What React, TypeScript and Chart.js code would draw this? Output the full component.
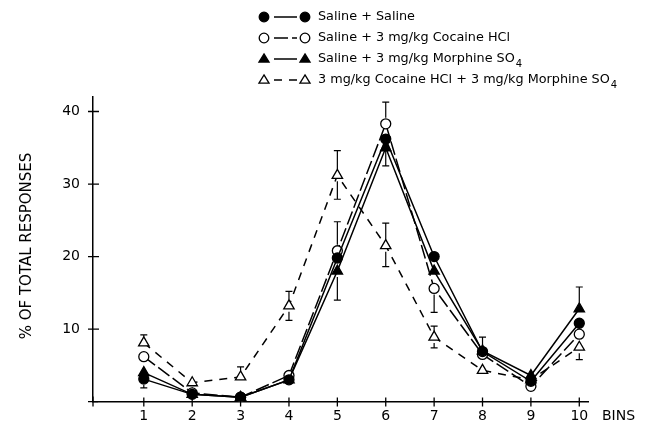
import { useEffect, useRef } from "react";
import { Chart, registerables } from "chart.js";
Chart.register(...registerables);

const bins = [1, 2, 3, 4, 5, 6, 7, 8, 9, 10];
const yTicks = [10, 20, 30, 40];

const salineSaline = [3.1, 1.0, 0.6, 3.0, 19.8, 36.2, 20.0, 6.9, 2.8, 10.8];
const salineCocaine = [6.2, 1.2, 0.6, 3.6, 20.8, 38.3, 15.6, 6.5, 2.1, 9.3];
const salineMorphine = [4.0, 1.0, 0.6, 3.0, 18.0, 35.0, 18.0, 7.0, 3.6, 12.8];
const cocaineMorphine = [8.1, 2.6, 3.4, 13.2, 31.2, 21.5, 8.9, 4.3, 3.0, 7.5];

// error bar extents (0 = not drawn)
const ssErrUp = [0, 0, 0, 0, 0, 0, 0, 2.0, 0, 0];
const ssErrDown = [1.2, 0, 0, 0, 0, 3.7, 0, 0, 0, 0];
const scErrUp = [0, 0, 0, 0, 4.0, 3.0, 0, 0, 0, 0];
const scErrDown = [0, 0, 0, 0, 0, 0, 3.3, 0, 0, 0];
const smErrUp = [0, 0, 0, 0, 0, 0, 0, 0, 0, 3.0];
const smErrDown = [0, 0, 0, 0, 4.0, 0, 0, 0, 0, 0];
const cmErrUp = [1.1, 0, 1.4, 2.0, 3.4, 3.1, 1.5, 0, 0, 0];
const cmErrDown = [0, 0, 0, 2.0, 3.3, 2.9, 1.5, 0, 0, 1.7];

const legendLabels = [
  "Saline + Saline",
  "Saline + 3 mg/kg Cocaine HCl",
  "Saline + 3 mg/kg Morphine SO",
  "3 mg/kg Cocaine HCl + 3 mg/kg Morphine SO",
];
const legendSubs = ["", "", "4", "4"];
const yTitle = "% OF TOTAL RESPONSES";
const xTitle = "BINS";

const FONT = "'DejaVu Sans', sans-serif";

function drawMarker(ctx: CanvasRenderingContext2D, style: string, filled: boolean, x: number, y: number, r: number) {
  ctx.save();
  ctx.beginPath();
  if (style === "circle") {
    ctx.arc(x, y, r, 0, Math.PI * 2);
  } else {
    const h = r * 1.7;
    ctx.moveTo(x, y - h * 0.62);
    ctx.lineTo(x + r * 1.05, y + h * 0.38);
    ctx.lineTo(x - r * 1.05, y + h * 0.38);
    ctx.closePath();
  }
  ctx.fillStyle = filled ? "#000" : "#fff";
  ctx.fill();
  ctx.lineWidth = 1.3;
  ctx.strokeStyle = "#000";
  ctx.stroke();
  ctx.restore();
}

const figurePlugin = {
  id: "figure",
  afterDatasetsDraw(chart: any) {
    const ctx: CanvasRenderingContext2D = chart.ctx;
    const xs = chart.scales.x;
    const ys = chart.scales.y;
    // error bars
    chart.data.datasets.forEach((ds: any) => {
      ds.data.forEach((p: any, i: number) => {
        const up = ds.errUp[i];
        const dn = ds.errDown[i];
        const px = xs.getPixelForValue(p.x);
        const py = ys.getPixelForValue(p.y);
        ctx.save();
        ctx.strokeStyle = "#000";
        ctx.lineWidth = 1.2;
        if (up > 0) {
          const ty = ys.getPixelForValue(p.y + up);
          ctx.beginPath();
          ctx.moveTo(px, py - 6);
          ctx.lineTo(px, ty);
          ctx.moveTo(px - 3.5, ty);
          ctx.lineTo(px + 3.5, ty);
          ctx.stroke();
        }
        if (dn > 0) {
          const by = ys.getPixelForValue(p.y - dn);
          ctx.beginPath();
          ctx.moveTo(px, py + 6);
          ctx.lineTo(px, by);
          ctx.moveTo(px - 3.5, by);
          ctx.lineTo(px + 3.5, by);
          ctx.stroke();
        }
        ctx.restore();
      });
    });
  },
  afterDraw(chart: any) {
    const ctx: CanvasRenderingContext2D = chart.ctx;
    const xs = chart.scales.x;
    const ys = chart.scales.y;
    const area = chart.chartArea;
    ctx.save();
    ctx.strokeStyle = "#000";
    ctx.lineWidth = 1.3;
    // cross ticks
    ctx.beginPath();
    bins.forEach((b) => {
      const px = xs.getPixelForValue(b);
      ctx.moveTo(px, area.bottom - 4);
      ctx.lineTo(px, area.bottom + 5);
    });
    yTicks.forEach((t) => {
      const py = ys.getPixelForValue(t);
      ctx.moveTo(area.left - 5, py);
      ctx.lineTo(area.left + 6, py);
    });
    ctx.moveTo(area.left - 5, area.bottom);
    ctx.lineTo(area.left + 5, area.bottom);
    ctx.moveTo(area.left, area.bottom - 5);
    ctx.lineTo(area.left, area.bottom + 5);
    ctx.stroke();

    // x title
    ctx.fillStyle = "#000";
    ctx.font = `14px ${FONT}`;
    ctx.textBaseline = "middle";
    ctx.textAlign = "left";
    ctx.fillText(xTitle, 602, 416);

    // y title
    ctx.save();
    ctx.translate(27, 246);
    ctx.rotate(-Math.PI / 2);
    ctx.textAlign = "center";
    ctx.font = `15px ${FONT}`;
    ctx.fillText(yTitle, 0, 0);
    ctx.restore();

    // legend
    const rows = [17, 38, 59, 80];
    chart.data.datasets.forEach((ds: any, i: number) => {
      const y = rows[i];
      ctx.save();
      ctx.lineWidth = 1.5;
      ctx.setLineDash(ds.borderDash || []);
      ctx.beginPath();
      ctx.moveTo(274, y);
      ctx.lineTo(297, y);
      ctx.stroke();
      ctx.restore();
      drawMarker(ctx, ds.pointStyle, ds.pointBackgroundColor === "#000", 264, y, 4.8);
      drawMarker(ctx, ds.pointStyle, ds.pointBackgroundColor === "#000", 305, y, 4.8);
      ctx.font = `500 12.8px ${FONT}`;
      ctx.textAlign = "left";
      ctx.textBaseline = "middle";
      ctx.fillStyle = "#000";
      ctx.fillText(legendLabels[i], 318, y);
      if (legendSubs[i]) {
        const w = ctx.measureText(legendLabels[i]).width;
        ctx.font = `10px ${FONT}`;
        ctx.fillText(legendSubs[i], 318 + w + 1, y + 5);
      }
    });
    ctx.restore();
  },
};

function makeDataset(values: number[], up: number[], down: number[], style: string, filled: boolean, dash: number[]) {
  return {
    data: values.map((v, i) => ({ x: bins[i], y: v })),
    errUp: up,
    errDown: down,
    borderColor: "#000",
    borderWidth: 1.5,
    borderDash: dash,
    pointStyle: style,
    pointRadius: style === "circle" ? 5 : 6,
    pointBackgroundColor: filled ? "#000" : "#fff",
    pointBorderColor: "#000",
    pointBorderWidth: 1.3,
    showLine: true,
    tension: 0,
    fill: false,
  };
}

export default function App() {
  const ref = useRef<HTMLCanvasElement>(null);
  useEffect(() => {
    if (!ref.current) return;
    const chart = new Chart(ref.current, {
      type: "scatter",
      data: {
        datasets: [
          makeDataset(salineSaline, ssErrUp, ssErrDown, "circle", true, []),
          makeDataset(salineCocaine, scErrUp, scErrDown, "circle", false, [14, 4]),
          makeDataset(salineMorphine, smErrUp, smErrDown, "triangle", true, []),
          makeDataset(cocaineMorphine, cmErrUp, cmErrDown, "triangle", false, [8, 7]),
        ] as any,
      },
      options: {
        animation: false,
        responsive: false,
        devicePixelRatio: 1,
        layout: { padding: { left: 0, right: 61, top: 97, bottom: 0 } },
        plugins: { legend: { display: false }, tooltip: { enabled: false } },
        scales: {
          x: {
            type: "linear",
            min: -0.05,
            max: 10.18,
            afterFit: (s: any) => { s.height = 21; },
            afterBuildTicks: (s: any) => { s.ticks = bins.map((b) => ({ value: b })); },
            grid: { display: true, drawOnChartArea: false, drawTicks: false },
            border: { display: true, color: "#000", width: 1.5 },
            ticks: { color: "#000", font: { family: FONT, size: 14 }, padding: 6, maxRotation: 0, autoSkip: false },
          },
          y: {
            type: "linear",
            min: 0,
            max: 42,
            afterFit: (s: any) => { s.width = 93; },
            afterBuildTicks: (s: any) => { s.ticks = yTicks.map((t) => ({ value: t })); },
            grid: { display: true, drawOnChartArea: false, drawTicks: false },
            border: { display: true, color: "#000", width: 1.5 },
            ticks: { color: "#000", font: { family: FONT, size: 14 }, padding: 13 },
          },
        },
      },
      plugins: [figurePlugin],
    });
    return () => chart.destroy();
  }, []);
  return (
    <div style={{ position: "fixed", left: 0, top: 0, width: 649, height: 423, background: "#fff" }}>
      <canvas ref={ref} width={649} height={423} />
    </div>
  );
}
